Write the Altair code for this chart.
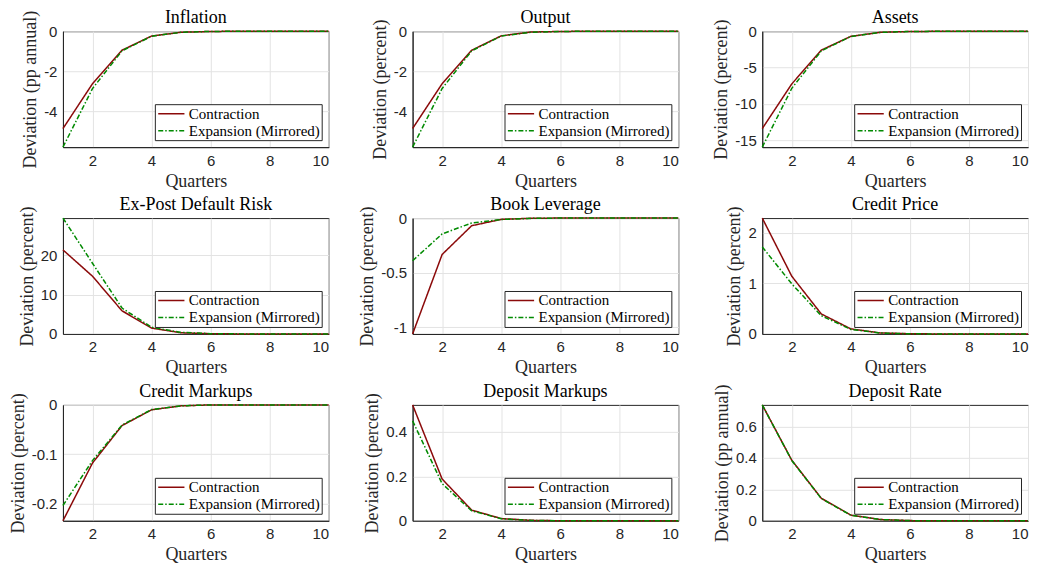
import altair as alt
import pandas as pd

quarters = list(range(1, 11))
series = ["Contraction", "Expansion (Mirrored)"]

titles = ["Inflation", "Output", "Assets",
          "Ex-Post Default Risk", "Book Leverage", "Credit Price",
          "Credit Markups", "Deposit Markups", "Deposit Rate"]
y_titles = ["Deviation (pp annual)", "Deviation (percent)", "Deviation (percent)",
            "Deviation (percent)", "Deviation (percent)", "Deviation (percent)",
            "Deviation (percent)", "Deviation (percent)", "Deviation (pp annual)"]
y_ticks = [[-4, -2, 0], [-4, -2, 0], [-15, -10, -5, 0],
           [0, 10, 20], [-1, -0.5, 0], [0, 1, 2],
           [-0.2, -0.1, 0], [0, 0.2, 0.4], [0, 0.2, 0.4, 0.6]]

inflation_c = [-4.87, -2.63, -0.95, -0.24, -0.05, -0.01, 0, 0, 0, 0]
inflation_e = [-5.80, -2.87, -0.98, -0.25, -0.05, -0.01, 0, 0, 0, 0]
output_c = [-4.86, -2.62, -0.95, -0.23, -0.04, -0.01, 0, 0, 0, 0]
output_e = [-5.79, -2.86, -0.98, -0.24, -0.05, -0.01, 0, 0, 0, 0]
assets_c = [-13.4, -7.25, -2.6, -0.7, -0.15, -0.03, -0.01, 0, 0, 0]
assets_e = [-15.95, -7.85, -2.7, -0.72, -0.16, -0.03, -0.01, 0, 0, 0]
default_c = [21.4, 14.7, 5.9, 1.5, 0.3, 0.06, 0.01, 0, 0, 0]
default_e = [29.5, 18.0, 6.6, 1.7, 0.4, 0.08, 0.02, 0, 0, 0]
leverage_c = [-1.06, -0.333, -0.07, -0.012, -0.002, 0, 0, 0, 0, 0]
leverage_e = [-0.39, -0.145, -0.045, -0.013, -0.003, 0, 0, 0, 0, 0]
price_c = [2.29, 1.14, 0.395, 0.10, 0.02, 0.004, 0, 0, 0, 0]
price_e = [1.72, 0.99, 0.36, 0.09, 0.018, 0.003, 0, 0, 0, 0]
cmarkup_c = [-0.235, -0.118, -0.042, -0.010, -0.002, 0, 0, 0, 0, 0]
cmarkup_e = [-0.204, -0.113, -0.041, -0.0095, -0.002, 0, 0, 0, 0, 0]
dmarkup_c = [0.522, 0.188, 0.048, 0.010, 0.002, 0, 0, 0, 0, 0]
dmarkup_e = [0.45, 0.167, 0.045, 0.009, 0.002, 0, 0, 0, 0, 0]
drate_c = [0.737, 0.385, 0.143, 0.036, 0.008, 0.001, 0, 0, 0, 0]
drate_e = [0.737, 0.383, 0.141, 0.035, 0.008, 0.001, 0, 0, 0, 0]

contraction = [inflation_c, output_c, assets_c, default_c, leverage_c,
               price_c, cmarkup_c, dmarkup_c, drate_c]
expansion = [inflation_e, output_e, assets_e, default_e, leverage_e,
             price_e, cmarkup_e, dmarkup_e, drate_e]

RED = "#8b0a0a"
GREEN = "#008a00"
SERIF = "'Liberation Serif', 'Times New Roman', serif"
SANS = "'Liberation Sans', Arial, sans-serif"


def panel(title, y_title, c, e, ticks):
    df = pd.DataFrame({
        "q": quarters * 2,
        "v": c + e,
        "s": [series[0]] * len(c) + [series[1]] * len(e),
    })
    legend = alt.Legend(
        title=None, orient="bottom-right", offset=7,
        fillColor="white", strokeColor="#262626", padding=1,
        labelFont=SERIF, labelFontSize=15, labelColor="black",
        symbolType="M-1.75,0H1.75", symbolSize=225, symbolStrokeWidth=1.5,
        symbolOffset=7, rowPadding=0, labelOffset=9,
    )
    # the long y title sticks out above the plot, so the panel title is pulled back down
    title_offset = -17 if "annual" in y_title else -8
    return alt.Chart(df, title=alt.Title(title, offset=title_offset)).mark_line(strokeWidth=1.5).encode(
        x=alt.X("q:Q", title="Quarters",
                scale=alt.Scale(domain=[1, 10], nice=False, zero=False),
                axis=alt.Axis(values=[2, 4, 6, 8, 10])),
        y=alt.Y("v:Q", title=y_title,
                scale=alt.Scale(domain=[min(c + e), max(c + e)], nice=False, zero=False),
                axis=alt.Axis(values=ticks, labelExpr="'' + datum.value")),
        color=alt.Color("s:N", scale=alt.Scale(domain=series, range=[RED, GREEN]),
                        legend=legend),
        strokeDash=alt.StrokeDash("s:N", scale=alt.Scale(domain=series,
                                                         range=[[1, 0], [5, 2, 1.5, 2]]),
                                  legend=legend),
    ).properties(width=266, height=116)


panels = [panel(titles[i], y_titles[i], contraction[i], expansion[i], y_ticks[i])
          for i in range(9)]

chart = alt.concat(
    *panels, columns=3, spacing={"row": 71, "column": 84}, bounds="flush",
    padding={"left": 0, "top": 0, "right": 0, "bottom": 0},
).resolve_scale(
    color="independent", strokeDash="independent"
).configure_view(
    stroke="#262626", strokeWidth=1
).configure_axis(
    grid=True, gridColor="#e3e3e3", domainColor="#262626", ticks=False,
    labelFont=SANS, labelFontSize=15, labelColor="#262626",
    labelPadding=6, titleFont=SERIF, titleFontSize=18, titleFontWeight="normal",
    titleColor="#262626", titlePadding=4,
).configure_title(
    font=SERIF, fontSize=18, fontWeight="normal", color="black"
)

chart.save("out.html", embed_options={"renderer": "svg", "actions": False})
